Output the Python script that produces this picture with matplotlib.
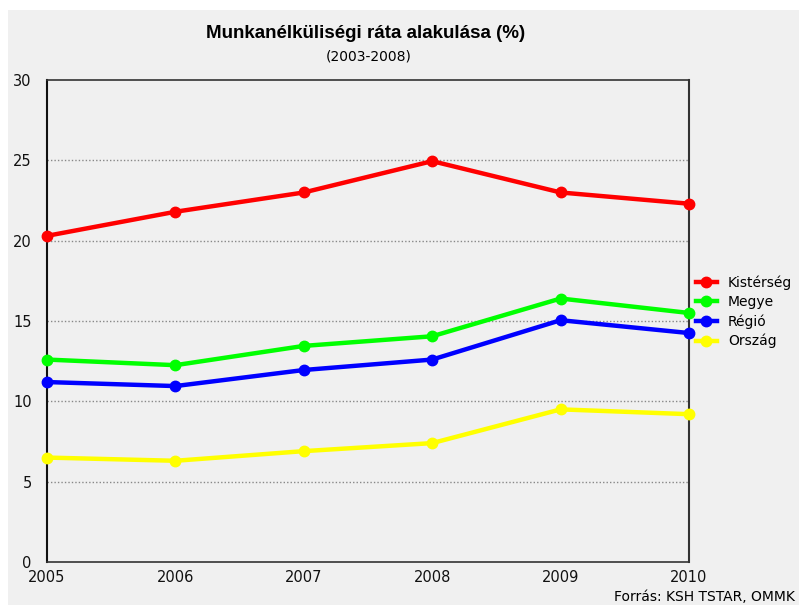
import matplotlib
matplotlib.use("Agg")
import matplotlib.pyplot as plt
from matplotlib.patches import Rectangle

years = [2005, 2006, 2007, 2008, 2009, 2010]
kisterseg = [20.3, 21.8, 23.0, 24.95, 23.0, 22.3]
megye = [12.6, 12.25, 13.45, 14.05, 16.4, 15.5]
regio = [11.2, 10.95, 11.95, 12.6, 15.05, 14.25]
orszag = [6.5, 6.3, 6.9, 7.4, 9.5, 9.2]
series_names = ["Kistérség", "Megye", "Régió", "Ország"]
colors = ["#ff0000", "#00ff00", "#0000ff", "#ffff00"]
yticks = [0, 5, 10, 15, 20, 25, 30]

W, H = 799, 607
fig = plt.figure(figsize=(W / 100, H / 100), dpi=100)
fig.patch.set_facecolor("white")
bg = Rectangle((8 / W, 2 / H), (W - 8) / W, (605 - 10) / H,
               transform=fig.transFigure, facecolor="#f0f0f0",
               edgecolor="none", zorder=-10)
fig.add_artist(bg)

ax = fig.add_axes([47 / W, (H - 562) / H, (689 - 47) / W, (562 - 80) / H])
ax.set_zorder(1)
ax.set_facecolor("#f0f0f0")

for vals, name, c in zip([kisterseg, megye, regio, orszag], series_names, colors):
    ax.plot(years, vals, color=c, lw=3.2, marker="o", ms=7.5, label=name,
            clip_on=False, zorder=3, solid_joinstyle="round")

ax.set_xlim(2005, 2010)
ax.set_ylim(0, 30)
ax.set_yticks(yticks)
ax.set_xticks(years)
ax.set_yticklabels([str(v) for v in yticks], fontsize=10.5, family="DejaVu Sans")
ax.set_xticklabels([str(v) for v in years], fontsize=10.5, family="DejaVu Sans")
ax.tick_params(axis="both", length=0, colors="#111111")
ax.tick_params(axis="y", pad=11)
ax.tick_params(axis="x", pad=6)

for v in yticks[1:-1]:
    ax.axhline(v, color="#888888", lw=1, ls=(0, (1, 1.5)), zorder=1)

ax.spines["left"].set_color("#111111")
ax.spines["left"].set_linewidth(1.5)
ax.spines["right"].set_color("#333333")
ax.spines["right"].set_linewidth(1.5)
for s in ["top", "bottom"]:
    ax.spines[s].set_color("#333333")
    ax.spines[s].set_linewidth(1.2)
    ax.spines[s].set_linestyle((0, (1, 1)))

leg = ax.legend(loc="center left", bbox_to_anchor=(696 / W, (H - 312) / H),
                bbox_transform=fig.transFigure, frameon=False,
                prop={"family": "DejaVu Sans", "size": 10},
                handlelength=1.5, handletextpad=0.8, labelspacing=0.37,
                borderaxespad=0, borderpad=0)

fig.text(366 / W, 1 - 34 / H, "Munkanélküliségi ráta alakulása (%)",
         ha="center", va="center", fontsize=13.5, fontweight="bold",
         family="Liberation Sans")
fig.text(369 / W, 1 - 57 / H, "(2003-2008)", ha="center", va="center",
         fontsize=10, family="DejaVu Sans")
fig.text(795 / W, 1 - 597 / H, "Forrás: KSH TSTAR, OMMK", ha="right",
         va="center", fontsize=10, family="DejaVu Sans")

fig.savefig("out.png", dpi=100, facecolor=fig.get_facecolor())
